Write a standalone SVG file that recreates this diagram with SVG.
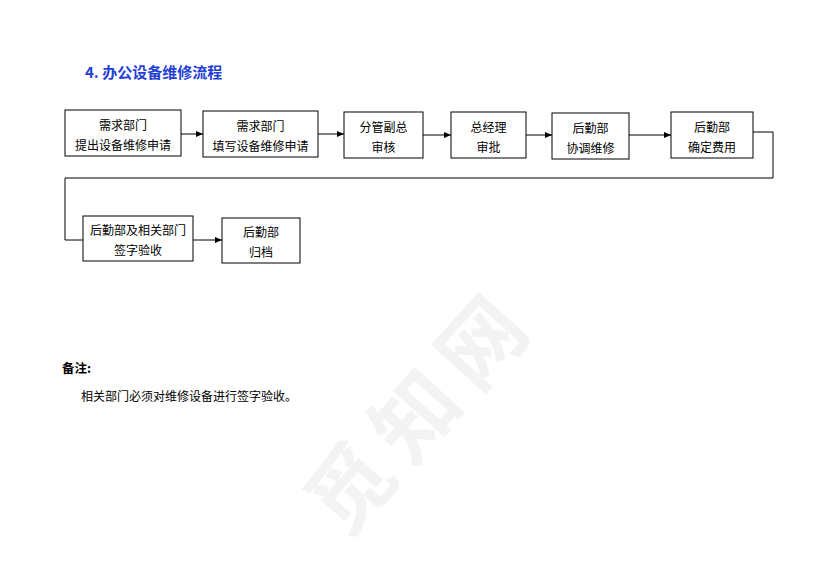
<svg xmlns="http://www.w3.org/2000/svg" width="830" height="587" viewBox="0 0 830 587">
<style>
.box{fill:#fff;stroke:#000;stroke-width:1}
.t{font-family:"Noto Sans CJK SC","Noto Sans",sans-serif;font-size:12px;fill:#000;text-anchor:middle}
.ln{fill:none;stroke:#000;stroke-width:1}
.title{font-family:"Noto Sans CJK SC","Liberation Sans",sans-serif;font-size:15px;font-weight:bold;fill:#1f3fd6}
.wm{font-family:"Noto Sans CJK SC",sans-serif;font-size:84px;font-weight:bold;fill:#f3f3f3}
</style>
<defs>
<marker id="ah" markerWidth="8" markerHeight="6" refX="7" refY="3" orient="auto" markerUnits="userSpaceOnUse">
<path d="M0,0 L7,3 L0,6 Z" fill="#000"/>
</marker>
</defs>
<rect width="830" height="587" fill="#fff"/>
<text class="wm" transform="translate(345,540) rotate(-48)" letter-spacing="14">觅知网</text>
<text class="title" x="85" y="78">4. 办公设备维修流程</text>
<g id="connectors">
<line class="ln" x1="181" y1="134" x2="203" y2="134" marker-end="url(#ah)"/>
<line class="ln" x1="318" y1="134" x2="344" y2="134" marker-end="url(#ah)"/>
<line class="ln" x1="423" y1="135" x2="451" y2="135" marker-end="url(#ah)"/>
<line class="ln" x1="526" y1="135" x2="552" y2="135" marker-end="url(#ah)"/>
<line class="ln" x1="629" y1="135" x2="671" y2="135" marker-end="url(#ah)"/>
<polyline class="ln" points="753,132 773,132 773,178 65,178 65,240 83,240"/>
<line class="ln" x1="193" y1="240" x2="222" y2="240" marker-end="url(#ah)"/>
</g>
<g id="n1"><rect class="box" x="65" y="110" width="116" height="46"/><text class="t" x="123" y="130">需求部门</text><text class="t" x="123" y="150">提出设备维修申请</text></g>
<g id="n2"><rect class="box" x="203" y="111" width="115" height="46"/><text class="t" x="260.5" y="131">需求部门</text><text class="t" x="260.5" y="151">填写设备维修申请</text></g>
<g id="n3"><rect class="box" x="344" y="112" width="79" height="46"/><text class="t" x="383.5" y="132">分管副总</text><text class="t" x="383.5" y="152">审核</text></g>
<g id="n4"><rect class="box" x="451" y="112" width="75" height="46"/><text class="t" x="488.5" y="132">总经理</text><text class="t" x="488.5" y="152">审批</text></g>
<g id="n5"><rect class="box" x="552" y="113" width="77" height="46"/><text class="t" x="590.5" y="133">后勤部</text><text class="t" x="590.5" y="153">协调维修</text></g>
<g id="n6"><rect class="box" x="671" y="112" width="82" height="46"/><text class="t" x="712" y="132">后勤部</text><text class="t" x="712" y="152">确定费用</text></g>
<g id="n7"><rect class="box" x="83" y="216" width="110" height="45"/><text class="t" x="138" y="235">后勤部及相关部门</text><text class="t" x="138" y="255">签字验收</text></g>
<g id="n8"><rect class="box" x="222" y="218" width="78" height="45"/><text class="t" x="261" y="237">后勤部</text><text class="t" x="261" y="257">归档</text></g>
<text x="62" y="373" font-family="Noto Sans CJK SC,sans-serif" font-size="12.5" font-weight="bold">备注:</text>
<text x="81" y="401" font-family="Noto Sans CJK SC,sans-serif" font-size="12">相关部门必须对维修设备进行签字验收。</text>
</svg>
